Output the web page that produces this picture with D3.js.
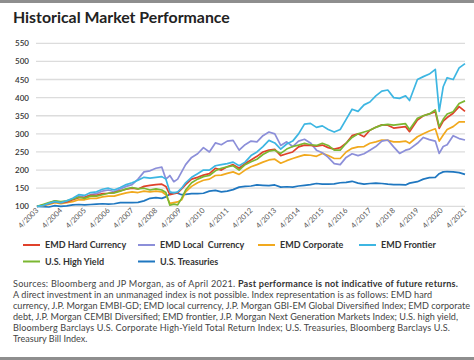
<!DOCTYPE html>
<html><head><meta charset="utf-8">
<script src="https://cdn.jsdelivr.net/npm/d3@7"></script>
<style>
body{margin:0;background:#fff}
svg{display:block}
text{font-family:Lato,"Open Sans",sans-serif}
</style>
</head><body>
<svg id="c" width="474" height="360"></svg>
<script>
const dates = ["2003-04","2003-07","2003-10","2004-01","2004-04","2004-07","2004-10","2005-01","2005-04","2005-07","2005-10","2006-01","2006-04","2006-07","2006-10","2007-01","2007-04","2007-07","2007-10","2008-01","2008-04","2008-07","2008-09","2008-11","2009-01","2009-03","2009-05","2009-07","2009-10","2010-01","2010-04","2010-07","2010-10","2011-01","2011-04","2011-07","2011-10","2012-01","2012-04","2012-07","2012-10","2013-01","2013-04","2013-07","2013-10","2014-01","2014-04","2014-07","2014-10","2015-01","2015-04","2015-07","2015-10","2016-01","2016-04","2016-07","2016-10","2017-01","2017-04","2017-07","2017-10","2018-01","2018-04","2018-07","2018-10","2018-12","2019-04","2019-07","2019-10","2020-01","2020-03","2020-05","2020-07","2020-10","2021-01","2021-04"];

const emdHard = [100,103,107, 112,110,112,118, 124,125,130,130, 135,136,138,143, 147,150,148,155, 158,160,161,155,132, 135,137,148,160,175, 180,186,190,205, 200,209,215,205, 218,228,238,250, 255,257,240,245, 250,264,269,268, 266,269,262,258, 262,274,295,300, 292,310,318,325, 324,316,318,320,306, 338,350,355, 361,315,335,345,357, 375,362];
const emdLocal = [100,103,108, 115,110,112,120, 128,125,132,135, 142,145,140,148, 155,160,175,195, 198,205,208,175,185, 168,175,195,215,235, 245,262,250,275, 270,280,282,255, 270,280,278,295, 305,300,268,278, 265,280,285,275, 255,248,235,218, 215,235,245,240, 245,255,265,280, 283,264,246,255,258, 274,290,284, 280,246,265,270,295, 287,283];
const emdCorp = [100,102,105, 110,107,110,113, 118,118,122,122, 126,128,128,133, 137,140,138,142, 140,142,140,132,108, 110,112,118,140,155, 165,172,175,185, 186,191,195,188, 200,209,215,222, 228,230,219,226, 232,237,242,241, 238,246,240,232, 232,250,260,264, 265,274,278,283, 282,278,278,280,274, 292,300,308, 314,280,297,312,320, 333,333];
const emdFrontier = [100,102,108, 113,110,115,122, 132,130,138,140, 147,150,145,152, 160,165,172,180, 178,180,182,175,140, 137,140,150,165,180, 190,200,200,212, 215,218,222,212, 222,240,250,265, 282,275,258,272, 280,300,327,329, 318,322,312,305, 312,340,368,362, 380,388,405,418, 421,400,398,405,392, 450,458,465, 478,362,430,455,450, 482,494];
const usHighYield = [100,105,110, 115,113,115,120, 125,122,128,128, 132,136,137,142, 148,152,148,150, 145,148,145,138,103, 106,104,122,145,165, 175,182,185,198, 205,209,212,200, 215,223,230,243, 252,255,246,258, 265,269,274,270, 268,274,268,255, 255,274,290,300, 305,310,318,324, 326,324,326,328,312, 343,350,355, 366,320,340,355,361, 384,391];
const usTreasuries = [100,99,98, 102,100,101,104, 105,104,105,106, 107,106,107,110, 110,110,111,115, 122,124,122,126,134, 138,136,132,133,135, 135,136,142,144, 140,142,146,153, 155,156,159,158, 157,159,153,154, 153,156,158,160, 163,161,161,162, 165,166,169,164, 161,163,164,163, 161,160,160,159,164, 168,175,179, 180,190,195,196,195, 193,188];

const seriesNames = ["EMD Hard Currency","EMD Local  Currency","EMD Corporate","EMD Frontier","U.S. High Yield","U.S. Treasuries"];
const seriesValues = [emdHard, emdLocal, emdCorp, emdFrontier, usHighYield, usTreasuries];
const seriesColors = ["#e0412b","#8c8fd9","#f1a91e","#3db6e2","#7bb731","#1f77c0"];
const drawOrder = [5,2,1,0,4,3];
const yTicks = [100,150,200,250,300,350,400,450,500,550];

const footLines = [
  ["Sources: Bloomberg and JP Morgan, as of April 2021. ", "Past performance is not indicative of future returns."],
  ["A direct investment in an unmanaged index is not possible. Index representation is as follows: EMD hard"],
  ["currency, J.P. Morgan EMBI-GD; EMD local currency, J.P. Morgan GBI-EM Global Diversified Index; EMD corporate"],
  ["debt, J.P. Morgan CEMBI Diversified; EMD frontier, J.P. Morgan Next Generation Markets Index; U.S. high yield,"],
  ["Bloomberg Barclays U.S. Corporate High-Yield Total Return Index; U.S. Treasuries, Bloomberg Barclays U.S."],
  ["Treasury Bill Index."]
];
const footWidths = [445, 419, 457, 445, 437, 74];

const svg = d3.select("#c");
const parse = d3.timeParse("%Y-%m");
const T = dates.map(parse);

svg.append("rect").attr("x",0).attr("y",0).attr("width",474).attr("height",3).attr("fill","#8e8e8e");
svg.append("rect").attr("x",0).attr("y",357).attr("width",474).attr("height",3).attr("fill","#8e8e8e");

const title = svg.append("text").attr("x",13).attr("y",23)
  .attr("font-size",17).attr("font-weight",700).attr("fill","#222")
  .text("Historical Market Performance");
(function(){const w=title.node().getComputedTextLength(); title.attr("font-size",17*217/w);})();

const x = d3.scaleTime().domain([parse("2003-04"), parse("2021-04")]).range([37,465]);
const y = d3.scaleLinear().domain([100,550]).range([206.3,43.3]);

svg.append("g").selectAll("line").data(yTicks).join("line")
  .attr("x1",36).attr("x2",465).attr("y1",d=>y(d)).attr("y2",d=>y(d))
  .attr("stroke","#dcdcdc").attr("stroke-width",1.3);

svg.append("g").selectAll("text").data(yTicks).join("text")
  .attr("x",15).attr("y",d=>y(d)+3).attr("font-size",8).attr("font-weight",600)
  .attr("fill","#333").text(d=>d);

const xt = d3.range(2003,2022).map(yv=>parse(yv+"-04"));
svg.append("g").selectAll("text").data(xt).join("text")
  .attr("transform",d=>`translate(${x(d)+2},${211}) rotate(-45)`)
  .attr("text-anchor","end").attr("font-size",7.5).attr("fill","#555")
  .text(d3.timeFormat("%-m/%Y"));

const line = d3.line().x((d,i)=>x(T[i])).y(d=>y(d));
svg.append("g").selectAll("path").data(drawOrder).join("path")
  .attr("d",k=>line(seriesValues[k])).attr("fill","none")
  .attr("stroke",k=>seriesColors[k]).attr("stroke-width",1.7).attr("stroke-linejoin","round");

const legPos = [[23,245],[138,245],[258,245],[359,245],[23,261.5],[138,261.5]];
const leg = svg.append("g").selectAll("g").data(seriesNames).join("g")
  .attr("transform",(d,i)=>`translate(${legPos[i][0]},${legPos[i][1]})`);
leg.append("line").attr("x1",0).attr("x2",17).attr("y1",0).attr("y2",0)
  .attr("stroke",(d,i)=>seriesColors[i]).attr("stroke-width",2);
leg.append("text").attr("x",22).attr("y",3.2).attr("font-size",9).attr("font-weight",700)
  .attr("fill","#333").style("white-space","pre").text(d=>d);

// footnote: pick a font size so the longest lines fit naturally
const fy = [287,298,309,320,331,342];
const texts = footLines.map((parts,i)=>{
  const t = svg.append("text").attr("x",13).attr("y",fy[i]).attr("font-size",10).attr("fill","#444");
  t.append("tspan").text(parts[0]);
  if(parts[1]) t.append("tspan").attr("font-weight",700).attr("fill","#333").text(parts[1]);
  return t;
});
let fs = 10;
texts.forEach((t,i)=>{ if(i<5){ const w=t.node().getComputedTextLength(); fs=Math.min(fs,10*footWidths[i]/w);} });
texts.forEach((t,i)=>{
  t.attr("font-size",fs);
  const w=t.node().getComputedTextLength();
  if(w<footWidths[i]) t.attr("textLength",footWidths[i]).attr("lengthAdjust","spacing");
});
</script>
</body></html>
